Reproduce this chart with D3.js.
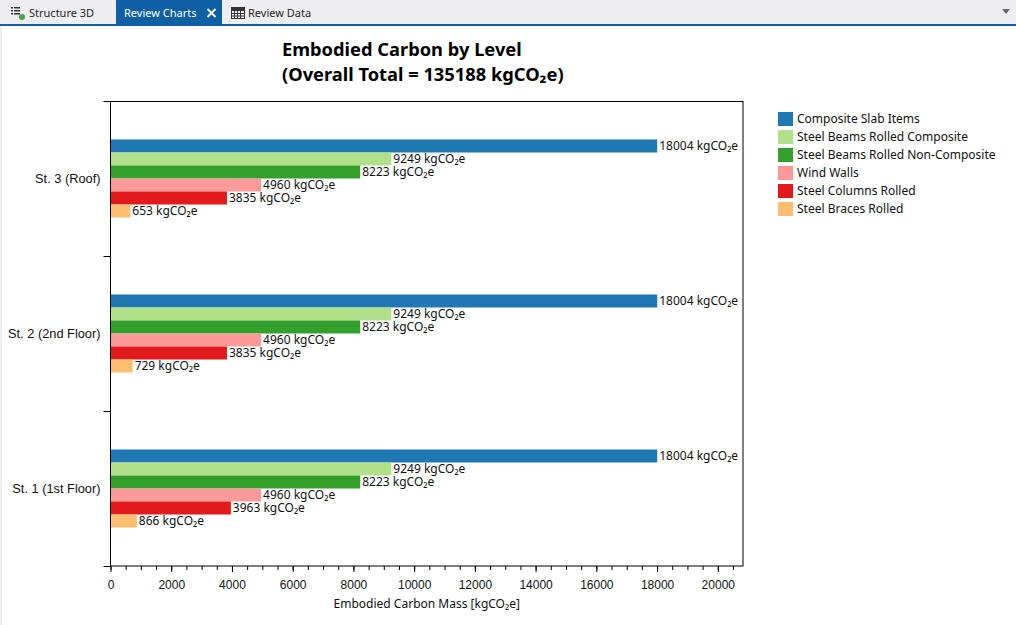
<!DOCTYPE html>
<html>
<head>
<meta charset="utf-8">
<script src="https://cdn.jsdelivr.net/npm/d3@7"></script>
<style>
  html, body { margin: 0; padding: 0; background: #fff; }
  svg { display: block; font-family: "Noto Sans", "Open Sans", sans-serif; }
</style>
</head>
<body>
<svg id="chart" width="1016" height="625"></svg>
<script>
// ---- data ----
const levels = ["St. 3 (Roof)", "St. 2 (2nd Floor)", "St. 1 (1st Floor)"];
const seriesNames = ["Composite Slab Items", "Steel Beams Rolled Composite", "Steel Beams Rolled Non-Composite", "Wind Walls", "Steel Columns Rolled", "Steel Braces Rolled"];
const seriesColors = ["#1f78b4", "#b2df8a", "#33a02c", "#fb9a99", "#e31a1c", "#fdbf6f"];
const roofValues = [18004, 9249, 8223, 4960, 3835, 653];
const secondFloorValues = [18004, 9249, 8223, 4960, 3835, 729];
const firstFloorValues = [18004, 9249, 8223, 4960, 3963, 866];
const xTickValues = [0, 2000, 4000, 6000, 8000, 10000, 12000, 14000, 16000, 18000, 20000];
const xMax = 20830;
const unit = "kgCO\u2082e";
const titleLines = ["Embodied Carbon by Level", "(Overall Total = 135188 kgCO\u2082e)"];
const xAxisTitle = "Embodied Carbon Mass [kgCO\u2082e]";
const tabs = ["Structure 3D", "Review Charts", "Review Data"];

const valuesByLevel = [roofValues, secondFloorValues, firstFloorValues];
const rows = [];
levels.forEach((lv, i) => seriesNames.forEach((s, j) => rows.push({level: lv, series: s, value: valuesByLevel[i][j], color: seriesColors[j]})));

const svg = d3.select("#chart");

// ---- tab bar ----
svg.append("rect").attr("x", 0).attr("y", 0).attr("width", 1016).attr("height", 24).attr("fill", "#eeeef2");
svg.append("rect").attr("x", 116).attr("y", 0).attr("width", 106).attr("height", 24).attr("fill", "#0e5fa3");
svg.append("rect").attr("x", 0).attr("y", 24).attr("width", 1016).attr("height", 2).attr("fill", "#0e5fa3");
svg.append("rect").attr("x", 0).attr("y", 26).attr("width", 2).attr("height", 599).attr("fill", "#eeeef2");
// list icon
const listIcon = svg.append("g").attr("fill", "#333");
[7, 10, 13].forEach(yy => { listIcon.append("rect").attr("x", 11).attr("y", yy).attr("width", 2).attr("height", 1.5); listIcon.append("rect").attr("x", 14).attr("y", yy).attr("width", 6).attr("height", 1.5); });
svg.append("circle").attr("cx", 22).attr("cy", 17).attr("r", 3).attr("fill", "#4aa24a");
// grid icon
const gridIcon = svg.append("g");
gridIcon.append("rect").attr("x", 231.5).attr("y", 7.5).attr("width", 13).attr("height", 11).attr("fill", "none").attr("stroke", "#333");
[10.5, 13.5, 16].forEach(yy => gridIcon.append("line").attr("x1", 231.5).attr("x2", 244.5).attr("y1", yy).attr("y2", yy).attr("stroke", "#333"));
[234.5, 237.5, 240.5].forEach(xx => gridIcon.append("line").attr("x1", xx).attr("x2", xx).attr("y1", 7.5).attr("y2", 18.5).attr("stroke", "#333"));
gridIcon.append("rect").attr("x", 231.5).attr("y", 7.5).attr("width", 13).attr("height", 2.5).attr("fill", "#333");
const tabText = svg.append("g").attr("font-size", 11);
tabText.append("text").attr("x", 29).attr("y", 17).attr("fill", "#1e1e1e").text(tabs[0]);
tabText.append("text").attr("x", 124).attr("y", 17).attr("fill", "#fff").text(tabs[1]);
tabText.append("text").attr("x", 248).attr("y", 17).attr("fill", "#1e1e1e").text(tabs[2]);
svg.append("path").attr("d", "M207.5,9 L215.5,17 M215.5,9 L207.5,17").attr("stroke", "#fff").attr("stroke-width", 1.8);
svg.append("path").attr("d", "M1002,9 L1010,9 L1006,14 Z").attr("fill", "#666");

// ---- chart ----
const pL = 110.5, pR = 743, pT = 101, pB = 566;
const x = d3.scaleLinear().domain([0, xMax]).range([pL, pR]);
const y = d3.scaleBand().domain(levels).range([pT, pB]).padding(0);
const yInner = d3.scaleBand().domain(seriesNames).range([0, y.bandwidth()]).paddingInner(0).paddingOuter(2.96);
const yEdge = d3.scaleLinear().domain([0, levels.length]).range([pT, pB]);

// title
const title = svg.append("text").attr("font-size", 18.3).attr("font-weight", "bold").attr("fill", "#000");
title.append("tspan").attr("x", 282).attr("y", 56).text(titleLines[0]);
title.append("tspan").attr("x", 282).attr("y", 81).text(titleLines[1]);

// bars
const barG = svg.append("g");
barG.selectAll("rect").data(rows).join("rect")
  .attr("x", x(0))
  .attr("y", d => y(d.level) + yInner(d.series))
  .attr("width", d => x(d.value) - x(0))
  .attr("height", yInner.bandwidth())
  .attr("fill", d => d.color);
barG.selectAll("text").data(rows).join("text")
  .attr("x", d => x(d.value) + 2)
  .attr("y", d => y(d.level) + yInner(d.series) + yInner.bandwidth() / 2)
  .attr("dy", "0.35em")
  .attr("font-size", 12)
  .attr("fill", "#111")
  .text(d => d.value + " " + unit);

// frame
svg.append("rect").attr("x", pL).attr("y", pT + 0.5).attr("width", pR - pL).attr("height", pB - pT - 0.5)
  .attr("fill", "none").attr("stroke", "#000").attr("stroke-width", 1);

// y axis: labels + boundary ticks
const yAx = svg.append("g").attr("transform", `translate(${pL},0)`)
  .call(d3.axisLeft(y).tickSize(0).tickPadding(10));
yAx.select(".domain").remove();
yAx.selectAll("text").attr("font-size", 12.8).attr("font-family", null).attr("fill", "#111");
const yEdgeAx = svg.append("g").attr("transform", `translate(${pL},0)`)
  .call(d3.axisLeft(yEdge).ticks(levels.length).tickSize(7).tickFormat(""));
yEdgeAx.select(".domain").remove();

// x axis: major + minor ticks
const xMinor = svg.append("g").attr("transform", `translate(0,${pB})`)
  .call(d3.axisBottom(x).tickValues(d3.range(0, xMax, 500)).tickSize(4).tickFormat(""));
xMinor.select(".domain").remove();
const xAx = svg.append("g").attr("transform", `translate(0,${pB})`)
  .call(d3.axisBottom(x).tickValues(xTickValues).tickSize(6).tickPadding(8).tickFormat(d3.format("d")));
xAx.select(".domain").remove();
xAx.selectAll("text").attr("font-size", 12).attr("font-family", null).attr("fill", "#111");

svg.append("text").attr("x", (pL + pR) / 2).attr("y", 608).attr("text-anchor", "middle")
  .attr("font-size", 12).attr("fill", "#111").text(xAxisTitle);

// legend
const lg = svg.append("g").attr("transform", "translate(778,112)");
const lgItems = lg.selectAll("g").data(seriesNames).join("g").attr("transform", (d, i) => `translate(0,${i * 18})`);
lgItems.append("rect").attr("width", 15).attr("height", 14).attr("fill", (d, i) => seriesColors[i]);
lgItems.append("text").attr("x", 19).attr("y", 7).attr("dy", "0.35em").attr("font-size", 12).attr("fill", "#111").text(d => d);
</script>
</body>
</html>
